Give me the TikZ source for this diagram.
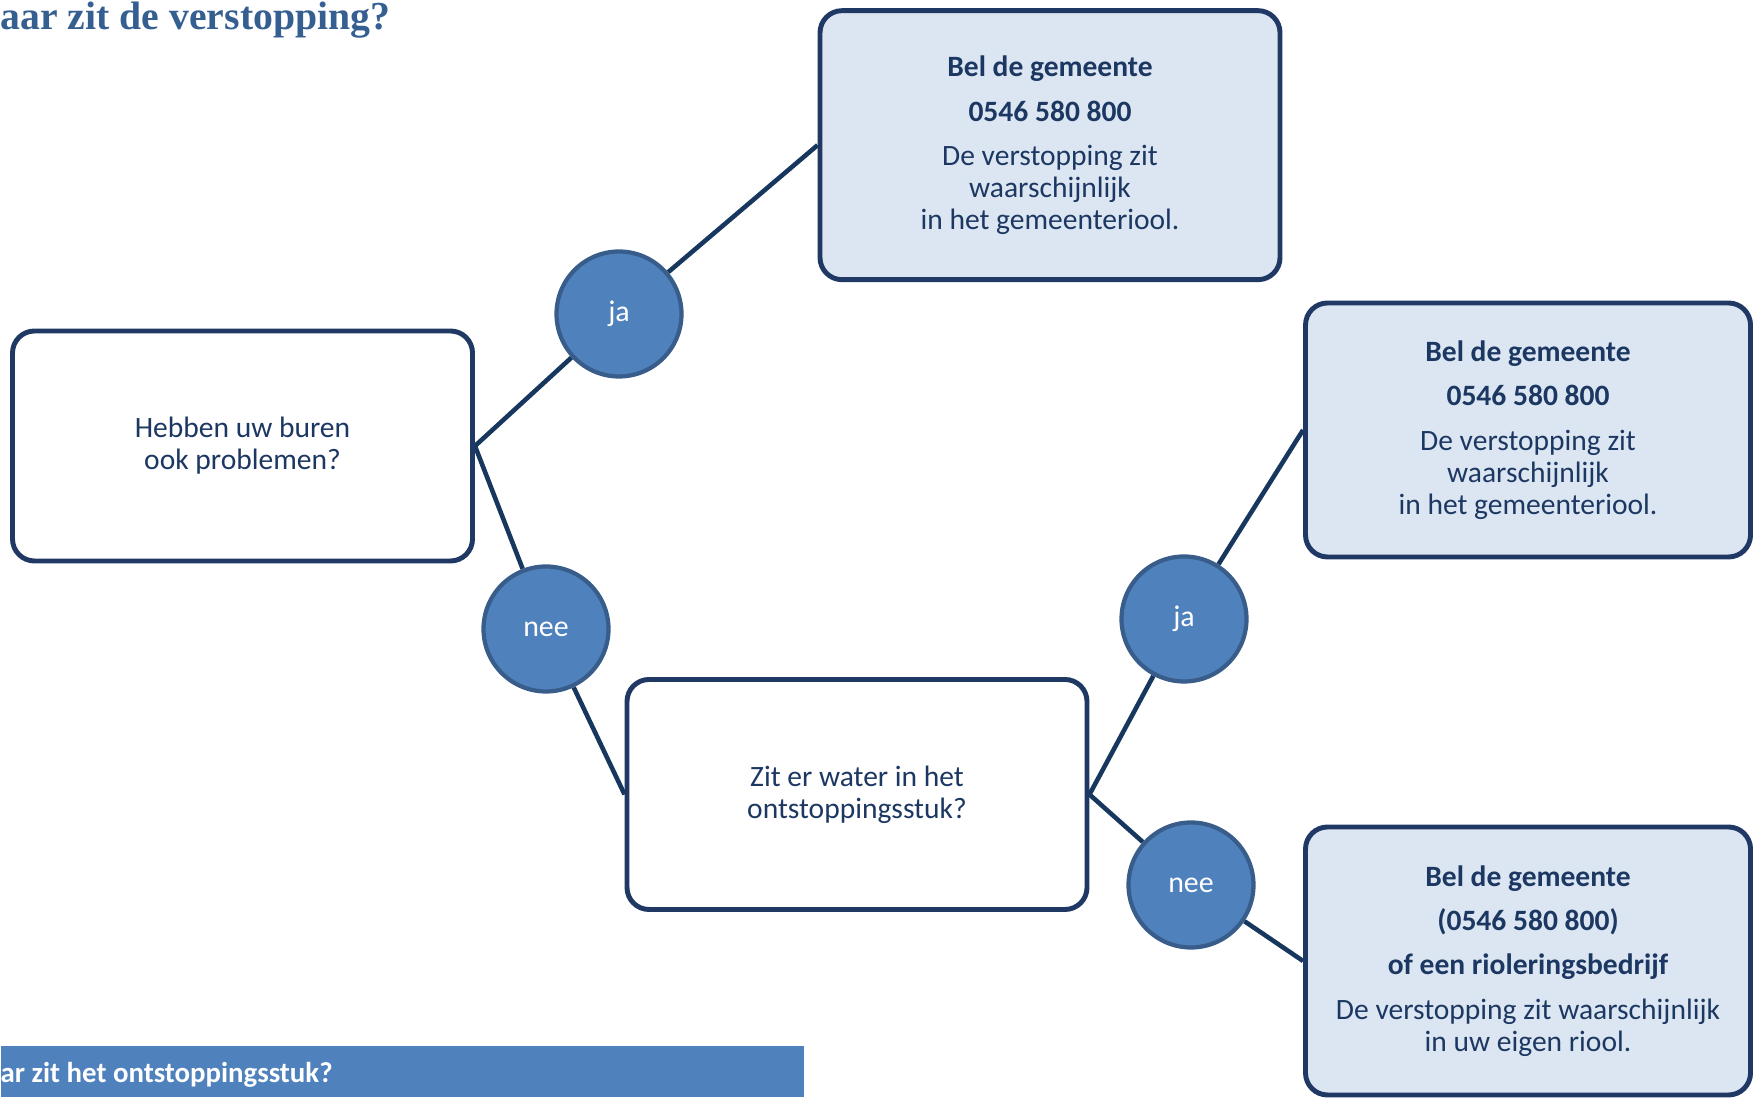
\documentclass[tikz,border=0pt]{standalone}
\usepackage{fontspec}
\setmainfont{Carlito}
\newfontfamily\titlefont{Liberation Serif}
\usepackage{tikz}
\usepackage{xcolor}
\definecolor{boxline}{RGB}{31,56,100}
\definecolor{boxfill}{RGB}{220,230,242}
\definecolor{dotfill}{RGB}{79,129,189}
\definecolor{dotline}{RGB}{56,93,138}
\definecolor{edgeline}{RGB}{23,55,94}
\definecolor{textnavy}{RGB}{28,56,98}
\definecolor{headblue}{RGB}{54,95,145}
\pgfdeclarelayer{edgelayer}
\pgfdeclarelayer{nodelayer}
\pgfsetlayers{edgelayer,nodelayer,main}
\tikzstyle{question}=[draw=boxline, line width=1.4pt, fill=white, rounded corners=0.22cm, minimum width=4.6cm, minimum height=2.3cm, align=center, text=textnavy, font=\fontsize{8.4}{9.1}\selectfont, inner sep=0pt]
\tikzstyle{advice}=[question, fill=boxfill]
\tikzstyle{answer}=[circle, fill=dotfill, draw=dotline, line width=1.2pt, minimum size=1.25cm, inner sep=0pt, text=white, font=\fontsize{8.5}{10}\selectfont]
\tikzstyle{branch}=[-, draw=edgeline, line width=1.3pt]
\tikzstyle{none}=[inner sep=0pt]
\newcommand{\callline}[1]{{\fontsize{8.4}{9.1}\selectfont\bfseries #1}}

\begin{document}
\begin{tikzpicture}
	\useasboundingbox (0,0) rectangle (17.53,10.98);
	\begin{pgfonlayer}{nodelayer}
		\node [style=none, anchor=base west, text=headblue, font=\titlefont\bfseries\fontsize{11.3}{13}\selectfont] (title) at (0,10.68) {aar zit de verstopping?};

		\node [style=question] (q1) at (2.425,6.52) {Hebben uw buren\\ook problemen?};
		\node [style=question] (q2) at (8.57,3.035) {Zit er water in het\\ontstoppingsstuk?};

		\node [style=advice, minimum height=2.69cm] (a1) at (10.50,9.528) {\callline{Bel de gemeente}\\[3.5pt]\callline{0546 580 800}\\[3.5pt]De verstopping zit\\waarschijnlijk\\in het gemeenteriool.};
		\node [style=advice, minimum width=4.45cm, minimum height=2.54cm] (a2) at (15.28,6.68) {\callline{Bel de gemeente}\\[3.5pt]\callline{0546 580 800}\\[3.5pt]De verstopping zit\\waarschijnlijk\\in het gemeenteriool.};
		\node [style=advice, minimum width=4.45cm, minimum height=2.68cm] (a3) at (15.28,1.37) {\callline{Bel de gemeente}\\[3.5pt]\callline{(0546 580 800)}\\[3.5pt]\callline{of een rioleringsbedrijf}\\[3.5pt]De verstopping zit waarschijnlijk\\in uw eigen riool.};

		\node [style=answer] (ja1) at (6.19,7.84) {ja};
		\node [style=answer] (nee1) at (5.46,4.69) {nee};
		\node [style=answer] (ja2) at (11.84,4.79) {ja};
		\node [style=answer] (nee2) at (11.91,2.13) {nee};

		\node [style=none, fill=dotfill, anchor=south west, minimum width=8.03cm, minimum height=0.51cm] (bar) at (0,0) {};
		\node [style=none, anchor=base west, text=white, font=\bfseries\fontsize{8.2}{9}\selectfont] (bartext) at (0,0.15) {ar zit het ontstoppingsstuk?};
	\end{pgfonlayer}
	\begin{pgfonlayer}{edgelayer}
		\draw [style=branch] (q1.east) to (ja1);
		\draw [style=branch] (ja1) to (a1.west);
		\draw [style=branch] (q1.east) to (nee1);
		\draw [style=branch] (nee1) to (q2.west);
		\draw [style=branch] (q2.east) to (ja2);
		\draw [style=branch] (ja2) to (a2.west);
		\draw [style=branch] (q2.east) to (nee2);
		\draw [style=branch] (nee2) to (a3.west);
	\end{pgfonlayer}
\end{tikzpicture}
\end{document}
